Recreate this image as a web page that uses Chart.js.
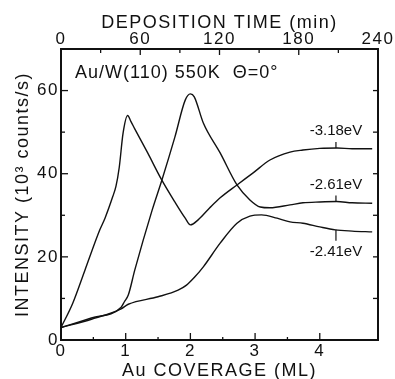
<!DOCTYPE html>
<html>
<head>
<meta charset="utf-8">
<script src="https://cdn.jsdelivr.net/npm/chart.js@4"></script>
<style>
  html, body { margin: 0; padding: 0; background: #fff; }
  canvas { display: block; }
</style>
</head>
<body>
<canvas id="chart" width="395" height="379"></canvas>
<script>
const cov318 = [0, 0.18, 0.37, 0.6, 0.68, 0.8, 0.85, 0.9, 0.96, 1.03, 1.08, 1.14, 1.34, 1.55, 1.76, 1.92, 2.0, 2.12, 2.3, 2.46, 2.72, 2.97, 3.23, 3.54, 3.74, 4.0, 4.27, 4.5, 4.81];
const int318 = [3.0, 8.8, 16.8, 26.5, 29.3, 34.5, 37, 41.5, 49.8, 54, 52.6, 50.8, 45, 38.7, 33.2, 29.3, 27.7, 28.9, 31.8, 34.2, 37.3, 40.2, 43.3, 45.2, 45.7, 46.1, 46.2, 46.0, 46.0];

const cov261 = [0, 0.47, 0.93, 0.98, 1.04, 1.14, 1.41, 1.56, 1.76, 1.92, 2.0, 2.06, 2.2, 2.46, 2.72, 2.92, 3.08, 3.23, 3.54, 3.74, 4.0, 4.26, 4.5, 4.81];
const int261 = [3.0, 5.3, 7.9, 9.2, 10.8, 16.8, 31.3, 38.5, 48.8, 57.7, 59.2, 58.5, 52.2, 45, 37.3, 33.7, 32, 31.8, 32.5, 33, 33.2, 33.3, 33.0, 32.9];

const cov241 = [0, 0.47, 0.93, 1.04, 1.5, 1.81, 1.94, 2.07, 2.2, 2.46, 2.72, 2.92, 3.1, 3.34, 3.54, 3.74, 4.0, 4.24, 4.5, 4.81];
const int241 = [3.0, 5.0, 7.5, 8.6, 10.4, 12.0, 13.2, 15.2, 17.6, 23.3, 28.1, 29.8, 30.1, 29.3, 28.4, 28.1, 27.2, 26.5, 26.2, 26.0];

// Beschriftungen der Kurven
const energyLabels = ['-3.18eV', '-2.61eV', '-2.41eV'];
const energyAt = 4.25;               // Bedeckung, an der die Marke sitzt
const energyLevel = [46.2, 33.3, 26.5];
const energyAbove = [true, true, false];

// Achsen
const covMax = 4.9;                  // ML
const timeMax = 240;                 // min, entspricht covMax
const intMax = 70;

const toPoints = (xs, ys) => xs.map((x, i) => ({ x: x, y: ys[i] }));
const ink = '#111';
const font = 'Liberation Sans, Arial, sans-serif';

// Tick-Striche nach innen zeichnen
const innerTicks = {
  id: 'innerTicks',
  afterDatasetsDraw(chart) {
    const { ctx, chartArea: a } = chart;
    ctx.save();
    ctx.strokeStyle = ink;
    ctx.lineWidth = 1.3;
    for (const s of Object.values(chart.scales)) {
      s.ticks.forEach(t => {
        const v = t.value;
        const p = s.getPixelForValue(v);
        ctx.beginPath();
        if (s.id === 'x') {
          if (Math.abs(v * 2 - Math.round(v * 2)) > 1e-6) return;
          const len = Number.isInteger(v) ? 7 : 3;
          ctx.moveTo(p, a.bottom); ctx.lineTo(p, a.bottom - len);
        } else if (s.id === 'x2') {
          if (v % 30 !== 0 || v === 0 || v === timeMax) return;
          ctx.moveTo(p, a.top); ctx.lineTo(p, a.top + (v % 60 === 0 ? 6 : 4));
        } else if (s.id === 'y') {
          if (v === 0 || v === intMax) return;
          ctx.moveTo(a.left, p); ctx.lineTo(a.left + (v % 20 === 0 ? 7 : 4), p);
        } else {
          if (v === 0 || v === intMax) return;
          ctx.moveTo(a.right, p); ctx.lineTo(a.right - 5, p);
        }
        ctx.stroke();
      });
    }
    ctx.restore();
  }
};

// Titel im Diagramm und Energie-Beschriftungen
const annotations = {
  id: 'annotations',
  afterDraw(chart) {
    const { ctx } = chart;
    const xs = chart.scales.x, ys = chart.scales.y;
    ctx.save();
    ctx.fillStyle = ink;
    ctx.strokeStyle = ink;
    ctx.lineWidth = 1.2;
    ctx.letterSpacing = '1px';
    ctx.font = '18px ' + font;
    ctx.textBaseline = 'middle';
    ctx.textAlign = 'left';
    ctx.fillText('Au/W(110) 550K  \u0398=0\u00b0', 75, 73);

    ctx.letterSpacing = '0px';
    ctx.font = '15px ' + font;
    ctx.textAlign = 'center';
    const px = xs.getPixelForValue(energyAt);
    energyLabels.forEach((lab, i) => {
      const py = ys.getPixelForValue(energyLevel[i]);
      ctx.beginPath();
      if (energyAbove[i]) {
        ctx.moveTo(px, py); ctx.lineTo(px, py - 6);
        ctx.stroke();
        ctx.fillText(lab, px, py - 17);
      } else {
        ctx.moveTo(px, py); ctx.lineTo(px, py + 11);
        ctx.stroke();
        ctx.fillText(lab, px, py + 22);
      }
    });
    ctx.restore();
  }
};

const spacing = {
  id: 'spacing',
  beforeDraw(chart) { chart.ctx.letterSpacing = '1.5px'; }
};

const lineStyle = {
  showLine: true,
  borderColor: ink,
  borderWidth: 1.4,
  pointRadius: 0,
  cubicInterpolationMode: 'monotone'
};

const tickFont = { family: font, size: 17, lineHeight: 1 };
const titleFont = { family: font, size: 18 };
const border = { display: true, color: ink, width: 2 };
const noGrid = { drawOnChartArea: false, drawTicks: false };

new Chart(document.getElementById('chart'), {
  type: 'scatter',
  data: {
    datasets: [
      Object.assign({ label: '-3.18eV', data: toPoints(cov318, int318) }, lineStyle),
      Object.assign({ label: '-2.61eV', data: toPoints(cov261, int261) }, lineStyle),
      Object.assign({ label: '-2.41eV', data: toPoints(cov241, int241) }, lineStyle)
    ]
  },
  options: {
    responsive: false,
    animation: false,
    layout: { padding: 0 },
    plugins: { legend: { display: false }, tooltip: { enabled: false } },
    scales: {
      x: {
        type: 'linear', position: 'bottom', min: 0, max: covMax,
        grid: noGrid, border: border,
        ticks: {
          stepSize: 0.5, autoSkip: false, maxRotation: 0, padding: 3,
          color: ink, font: tickFont,
          callback: v => Number.isInteger(v) ? String(v) : ''
        },
        title: { display: true, text: 'Au COVERAGE (ML)', color: ink, font: titleFont, padding: { top: 0, bottom: -3 } },
        afterFit: s => { s.height = 39; }
      },
      x2: {
        type: 'linear', position: 'top', min: 0, max: timeMax,
        grid: noGrid, border: border,
        ticks: {
          stepSize: 30, autoSkip: false, maxRotation: 0, padding: 1,
          color: ink, font: tickFont,
          callback: v => v % 60 === 0 ? String(v) : ''
        },
        title: { display: true, text: 'DEPOSITION TIME (min)', color: ink, font: titleFont, padding: { top: 12, bottom: 0 } },
        afterFit: s => { s.height = 49; }
      },
      y: {
        type: 'linear', position: 'left', min: 0, max: intMax,
        grid: noGrid, border: border,
        ticks: {
          stepSize: 10, autoSkip: false, padding: 2,
          color: ink, font: tickFont,
          callback: v => v % 20 === 0 ? String(v) : ''
        },
        title: { display: true, text: 'INTENSITY (10\u00b3 counts/s)', color: ink, font: titleFont, padding: { top: 12, bottom: 0 } },
        afterFit: s => { s.width = 61; }
      },
      y2: {
        type: 'linear', position: 'right', min: 0, max: intMax,
        grid: noGrid, border: border,
        ticks: { stepSize: 10, display: false },
        afterFit: s => { s.width = 17; }
      }
    }
  },
  plugins: [spacing, innerTicks, annotations]
});
</script>
</body>
</html>
